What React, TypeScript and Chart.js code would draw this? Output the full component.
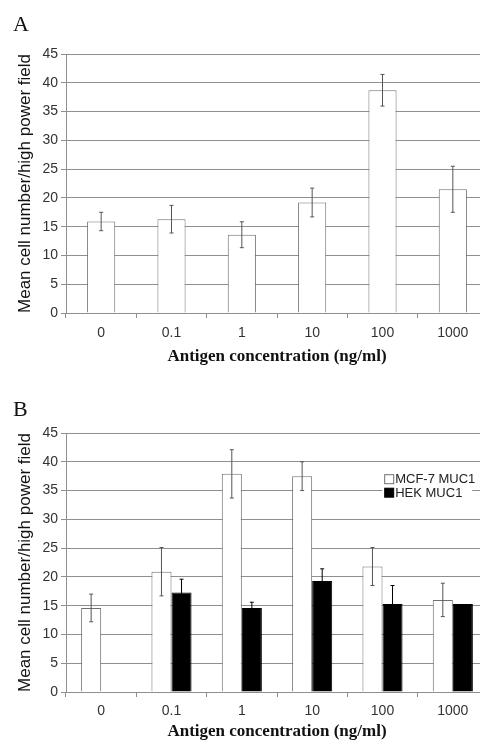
import React, { useEffect, useRef } from 'react';
import { Chart, registerables } from 'chart.js';

Chart.register(...registerables);

const categories = ['0', '0.1', '1', '10', '100', '1000'];
const yMin = 0;
const yMax = 45;
const yStep = 5;

const panelAValues = [15.9, 16.3, 13.6, 19.2, 38.7, 21.5];
const panelAErrors = [1.6, 2.4, 2.25, 2.5, 2.75, 4.0];

const mcf7Label = 'MCF-7 MUC1';
const mcf7Values = [14.6, 20.9, 37.9, 37.5, 21.8, 16.0];
const mcf7Errors = [2.4, 4.2, 4.2, 2.5, 3.3, 2.9];

const hekLabel = 'HEK MUC1';
const hekValues = [null, 17.3, 14.6, 19.3, 15.3, 15.3];
const hekErrors = [0, 2.3, 1.0, 2.1, 3.2, 0];

const yTitle = 'Mean cell number/high power field';
const xTitle = 'Antigen concentration (ng/ml)';

const GRID = '#8f8f8f';
const BORDER = '#707070';
const ERR = '#555555';
const SANS = '"Liberation Sans", Arial, sans-serif';
const SERIF = '"Liberation Serif", "Times New Roman", serif';

const errorBarPlugin = {
  id: 'errorBars',
  afterDatasetsDraw(chart: any) {
    const ctx = chart.ctx;
    const yScale = chart.scales.y;
    chart.data.datasets.forEach((ds: any, di: number) => {
      const meta = chart.getDatasetMeta(di);
      const errs = ds.errors || [];
      meta.data.forEach((bar: any, i: number) => {
        const v = ds.data[i];
        const e = errs[i];
        if (v == null || !e) return;
        const x = bar.x;
        const yTop = yScale.getPixelForValue(v + e);
        const yBot = yScale.getPixelForValue(v - e);
        ctx.save();
        ctx.strokeStyle = ds.errorColor || ERR;
        ctx.lineWidth = 1;
        ctx.beginPath();
        ctx.moveTo(x, yTop);
        ctx.lineTo(x, yBot);
        ctx.moveTo(x - 2, yTop);
        ctx.lineTo(x + 2, yTop);
        ctx.moveTo(x - 2, yBot);
        ctx.lineTo(x + 2, yBot);
        ctx.stroke();
        ctx.restore();
      });
    });
  },
};

const innerLegendPlugin = {
  id: 'innerLegend',
  afterDatasetsDraw(chart: any, _args: any, opts: any) {
    if (!opts || !opts.display) return;
    const ctx = chart.ctx;
    const area = chart.chartArea;
    const yScale = chart.scales.y;
    const x0 = area.left + opts.xFrac * (area.right - area.left);
    const yc = yScale.getPixelForValue(opts.yValue);
    const items = chart.data.datasets;
    const rowH = 13.5;
    const boxW = 90;
    const boxH = items.length * rowH + 2;
    ctx.save();
    ctx.fillStyle = '#ffffff';
    ctx.fillRect(x0 - 2, yc - boxH / 2, boxW, boxH);
    ctx.font = '13px ' + SANS;
    ctx.textBaseline = 'middle';
    ctx.textAlign = 'left';
    items.forEach((ds: any, i: number) => {
      const cy = yc - ((items.length - 1) * rowH) / 2 + i * rowH;
      ctx.fillStyle = ds.backgroundColor;
      ctx.fillRect(x0 + 0.5, cy - 4.5, 9, 9);
      ctx.strokeStyle = ds.backgroundColor === '#000000' ? '#000000' : BORDER;
      ctx.lineWidth = 1;
      ctx.strokeRect(x0 + 0.5, cy - 4.5, 9, 9);
      ctx.fillStyle = '#222222';
      ctx.fillText(ds.label, x0 + 11, cy + 0.5);
    });
    ctx.restore();
  },
};

function makeConfig(datasets: any[], padTop: number, xHeight: number, catPct: number, tickPad: number, legend: boolean) {
  return {
    type: 'bar' as const,
    data: { labels: categories, datasets },
    plugins: [errorBarPlugin, innerLegendPlugin],
    options: {
      animation: false as const,
      responsive: false,
      maintainAspectRatio: false,
      devicePixelRatio: 1,
      layout: { padding: { top: padTop, left: 0, right: 12, bottom: 0 } },
      datasets: { bar: { categoryPercentage: catPct, barPercentage: 1 } },
      plugins: {
        legend: { display: false },
        tooltip: { enabled: false },
        innerLegend: { display: legend, xFrac: 0.754, yValue: 35.8 },
      },
      scales: {
        x: {
          afterFit: (s: any) => { s.height = xHeight; },
          grid: { display: true, drawOnChartArea: false, drawTicks: true, tickLength: 5, color: GRID, offset: true },
          border: { display: true, color: GRID },
          ticks: { color: '#333333', font: { family: SANS, size: 14 }, padding: tickPad, maxRotation: 0 },
          title: { display: true, text: xTitle, color: '#111111', font: { family: SERIF, size: 17, weight: 'bold' as const }, padding: { top: 0, bottom: 3 } },
        },
        y: {
          min: yMin,
          max: yMax,
          afterFit: (s: any) => { s.width = 66; },
          ticks: { stepSize: yStep, color: '#333333', font: { family: SANS, size: 14 }, padding: 3 },
          grid: { color: GRID, tickLength: 5, drawTicks: true },
          border: { display: true, color: GRID },
          title: { display: true, text: yTitle, color: '#111111', font: { family: SANS, size: 17 }, padding: { top: 15, bottom: 0 } },
        },
      },
    },
  };
}

function BarPanel(props: { top: number; height: number; config: any }) {
  const ref = useRef<HTMLCanvasElement | null>(null);
  useEffect(() => {
    if (!ref.current) return;
    const chart = new Chart(ref.current, props.config);
    return () => chart.destroy();
  }, []);
  return (
    <canvas
      ref={ref}
      width={500}
      height={props.height}
      style={{ position: 'absolute', left: 0, top: props.top, width: 500, height: props.height }}
    />
  );
}

export default function App() {
  const configA = makeConfig(
    [
      {
        label: 'Panel A',
        data: panelAValues,
        errors: panelAErrors,
        backgroundColor: '#ffffff',
        borderColor: BORDER,
        borderWidth: 1,
      },
    ],
    54,
    57,
    0.4,
    7,
    false
  );
  const configB = makeConfig(
    [
      {
        label: mcf7Label,
        data: mcf7Values,
        errors: mcf7Errors,
        backgroundColor: '#ffffff',
        borderColor: BORDER,
        borderWidth: 1,
      },
      {
        label: hekLabel,
        data: hekValues,
        errors: hekErrors,
        errorColor: '#000000',
        backgroundColor: '#000000',
        borderColor: '#000000',
        borderWidth: 1,
      },
    ],
    63,
    53,
    0.57,
    6,
    true
  );
  const letterStyle: React.CSSProperties = {
    position: 'absolute',
    left: 13,
    fontFamily: SERIF,
    fontSize: 22,
    lineHeight: 1,
    color: '#111111',
    zIndex: 2,
  };
  return (
    <div
      style={{
        position: 'fixed',
        left: 0,
        top: 0,
        width: 480,
        height: 741,
        overflow: 'hidden',
        background: '#ffffff',
      }}
    >
      <BarPanel top={0} height={370} config={configA} />
      <BarPanel top={370} height={375} config={configB} />
      <div style={{ ...letterStyle, top: 13 }}>A</div>
      <div style={{ ...letterStyle, top: 398 }}>B</div>
    </div>
  );
}
